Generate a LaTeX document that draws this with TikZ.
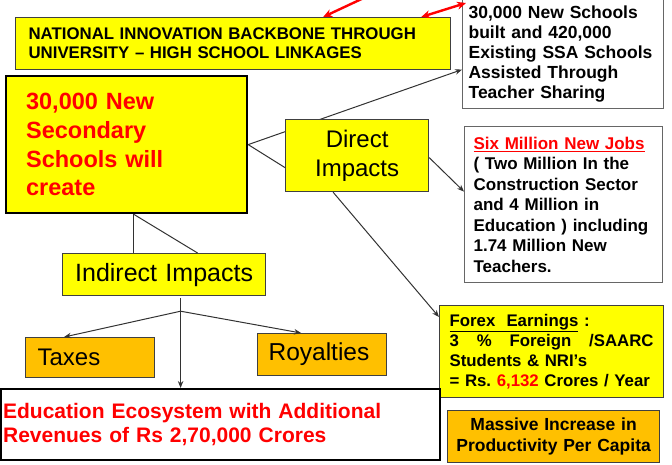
\documentclass[tikz,border=0pt]{standalone}
\usepackage{fontspec}
\setmainfont{Liberation Sans}
\usepackage{tikz}
\usetikzlibrary{arrows,arrows.meta,shapes,positioning,calc,backgrounds}
\usepackage{xcolor}
\frenchspacing
\definecolor{ppyellow}{RGB}{255,255,0}
\definecolor{pporange}{RGB}{255,192,0}
\definecolor{ppred}{RGB}{255,0,0}
\definecolor{ppborder}{RGB}{64,64,64}
\definecolor{ppline}{RGB}{50,50,50}
\tikzstyle{yellowbox} = [rectangle, anchor=north west, draw=ppborder, fill=ppyellow, line width=1.2pt, align=left]
\tikzstyle{orangebox} = [rectangle, anchor=north west, draw=ppborder, fill=pporange, line width=1.2pt, align=left]
\tikzstyle{whitebox} = [rectangle, anchor=north west, draw=ppborder!80, fill=white, line width=1.2pt, align=left]
\tikzstyle{bigbox} = [rectangle, anchor=north west, draw=black, line width=2.2pt, align=left, text=ppred]
\tikzstyle{link} = [line width=1pt, color=ppline]
\tikzstyle{arrow} = [link, ->, >={Stealth[length=7pt,width=5.5pt]}]
\tikzstyle{redarrow} = [line width=2.4pt, color=ppred, >={Stealth[length=9pt,width=8pt]}]

\begin{document}
\begin{tikzpicture}[x=1pt, y=-1pt]
\useasboundingbox (0,0) rectangle (672,464);
\clip (0,0) rectangle (672,464);

% Top boxes
\node[yellowbox, minimum width=435, minimum height=52, inner xsep=13, text width=409,
  font=\fontsize{16.8}{19}\selectfont\bfseries] (national) at (15,17)
  {NATIONAL INNOVATION BACKBONE THROUGH\\UNIVERSITY – HIGH SCHOOL LINKAGES};
\node[whitebox, minimum width=201, minimum height=110, inner xsep=6, text width=189,
  font=\fontsize{17.5}{20}\selectfont\bfseries] (schools) at (462,-2)
  {30,000 New Schools\\built and 420,000\\Existing SSA Schools\\Assisted Through\\Teacher Sharing};

% Main box
\node[bigbox, fill=ppyellow, minimum width=241, minimum height=137, inner xsep=20, text width=201,
  font=\fontsize{23.5}{28.7}\selectfont\bfseries] (mainbox) at (5,75)
  {30,000 New\\Secondary\\Schools will\\create};

% Direct impacts
\node[yellowbox, minimum width=143, minimum height=72, inner xsep=5, text width=133, align=center,
  font=\fontsize{24}{29}\selectfont] (direct) at (285,119) {Direct\\Impacts};
\node[whitebox, minimum width=198, minimum height=156, inner xsep=9, text width=180,
  font=\fontsize{17}{20.5}\selectfont\bfseries] (sixmil) at (464,126)
  {{\color{ppred}\underline{Six Million New Jobs}}\\( Two Million In the\\Construction Sector\\and 4 Million in\\Education ) including\\1.74 Million New\\Teachers.};
\node[yellowbox, minimum width=224, minimum height=92, inner xsep=10, text width=204,
  font=\fontsize{16.8}{20}\selectfont\bfseries] (forex) at (439,305)
  {\underline{Forex\ \ Earnings} :\\\makebox[204pt]{3\hfill\%\hfill Foreign\hfill/SAARC}\\Students \& NRI’s\\\mbox{= Rs. {\color{ppred}6,132} Crores / Year}};
\node[orangebox, minimum width=212, minimum height=52, inner xsep=5, text width=202, align=center,
  font=\fontsize{17.5}{21}\selectfont\bfseries] (massive) at (447,410)
  {Massive Increase in\\Productivity Per Capita};

% Indirect impacts
\node[yellowbox, minimum width=203, minimum height=42, inner xsep=5, text width=193, align=center,
  font=\fontsize{25}{29}\selectfont] (indirect) at (62,253) {Indirect Impacts};
\node[orangebox, minimum width=129, minimum height=40, inner xsep=12, text width=105,
  font=\fontsize{24}{28}\selectfont] (taxes) at (25,337) {Taxes};
\node[orangebox, minimum width=129, minimum height=42, inner xsep=11, text width=107,
  font=\fontsize{24.5}{28}\selectfont] (royal) at (257,333) {Royalties};
\node[bigbox, fill=white, minimum width=439, minimum height=71, inner xsep=2, text width=435,
  font=\fontsize{21}{23.5}\selectfont\bfseries] (edu) at (0,388)
  {Education Ecosystem with Additional\\Revenues of Rs 2,70,000 Crores};

% Connectors
\begin{scope}[on background layer]
\draw[arrow] (mainbox.east) -- ($(schools.west)+(0,16)$);
\end{scope}
\draw[link] (mainbox.east) -- ($(direct.west)+(0,12)$);
\draw[arrow] ($(direct.east)+(0,2)$) -- ($(sixmil.west)+(0,-13)$);
\draw[arrow] ($(direct.south)+(-24,0)$) -- ($(forex.north west)+(0,12)$);

\coordinate (split) at ($(mainbox.south)+(7,0)$);
\draw[link] (split) -- (split |- indirect.north);
\draw[link] (split) -- ($(indirect.north)+(33.5,0)$);

\coordinate (fork) at ($(indirect.south)+(16.5,15)$);
\draw[arrow] ($(indirect.south)+(16.5,2)$) -- (edu.north -| fork);
\draw[arrow] (fork) -- ($(taxes.north)+(-26,0)$);
\draw[arrow] (fork) -- ($(royal.north)+(-21,0)$);

% Red arrows at the top
\coordinate (redtail) at (368,-4);
\coordinate (schoolcorner) at ($(schools.north west)+(4,5)$);
\draw[redarrow, ->] (redtail) -- ($(national.north)+(90,0)$);
\draw[redarrow, <->] ($(national.north east)+(-30,0)$) -- (schoolcorner);
\end{tikzpicture}
\end{document}
